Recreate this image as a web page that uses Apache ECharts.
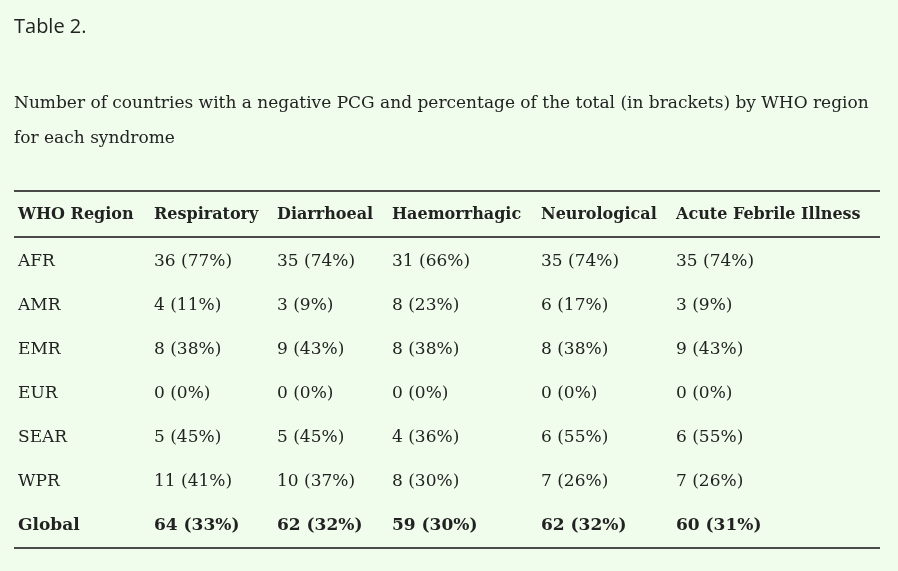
<!DOCTYPE html>
<html>
<head>
<meta charset="utf-8">
<script src="https://cdn.jsdelivr.net/npm/echarts@6/dist/echarts.min.js"></script>
<style>
html, body { margin: 0; padding: 0; background: #f1fdec; }
#Echarts_Div { width: 898px; height: 571px; }
</style>
</head>
<body>
<div id="Echarts_Div"></div>
<script>
var titleText = 'Table 2.';
var captionText = 'Number of countries with a negative PCG and percentage of the total (in brackets) by WHO region\nfor each syndrome';

var columns = ['WHO Region', 'Respiratory', 'Diarrhoeal', 'Haemorrhagic', 'Neurological', 'Acute Febrile Illness'];
var regions = ['AFR', 'AMR', 'EMR', 'EUR', 'SEAR', 'WPR', 'Global'];

// number of countries (N) and percentage of the total (P), one entry per region
var respiratoryN = [36, 4, 8, 0, 5, 11, 64];
var respiratoryP = [77, 11, 38, 0, 45, 41, 33];
var diarrhoealN = [35, 3, 9, 0, 5, 10, 62];
var diarrhoealP = [74, 9, 43, 0, 45, 37, 32];
var haemorrhagicN = [31, 8, 8, 0, 4, 8, 59];
var haemorrhagicP = [66, 23, 38, 0, 36, 30, 30];
var neurologicalN = [35, 6, 8, 0, 6, 7, 62];
var neurologicalP = [74, 17, 38, 0, 55, 26, 32];
var febrileN = [35, 3, 9, 0, 6, 7, 60];
var febrileP = [74, 9, 43, 0, 55, 26, 31];

// layout: left edge of each column inside the table (px)
var colX = [4, 140, 263, 378, 527, 662];
var tableLeft = 14;
var tableWidth = 866;
var headTop = 191;
var headH = 46;
var rowH = 44;
var bottomPad = 3;

var serif = '"DejaVu Serif", serif';
var textColor = '#222';

function cellText(n, p){
    return n + ' (' + p + '%)';
}

function makeLabel(text, bold, size, dy){
    return {
        show: true,
        position: 'right',
        distance: 0,
        offset: [0, dy],
        formatter: text,
        fontFamily: serif,
        fontSize: size,
        fontWeight: bold ? 'bold' : 'normal',
        color: textColor,
        opacity: 1
    };
}

function drawTable(){
    var chartDom = document.getElementById('Echarts_Div');
    var myChart = echarts.init(chartDom);
    var last = regions.length - 1;
    var bodyH = rowH * regions.length;

    var colData = [
        null,
        [respiratoryN, respiratoryP],
        [diarrhoealN, diarrhoealP],
        [haemorrhagicN, haemorrhagicP],
        [neurologicalN, neurologicalP],
        [febrileN, febrileP]
    ];

    var series = [];
    // header row
    series.push({
        type: 'scatter',
        xAxisIndex: 0,
        yAxisIndex: 0,
        symbolSize: 0,
        silent: true,
        itemStyle: {opacity: 1},
        data: columns.map(function(name, c){
            return {value: [colX[c], 'header'], label: makeLabel(name, true, 16, 1)};
        })
    });
    // body, one series per column
    for(var c = 0; c < columns.length; c++){
        var data = [];
        for(var r = 0; r < regions.length; r++){
            var t = c == 0 ? regions[r] : cellText(colData[c][0][r], colData[c][1][r]);
            data.push({value: [colX[c], regions[r]], label: makeLabel(t, r == last, 17, 3)});
        }
        series.push({
            type: 'scatter',
            xAxisIndex: 1,
            yAxisIndex: 1,
            symbolSize: 0,
            silent: true,
            itemStyle: {opacity: 1},
            data: data
        });
    }

    var lineY = [headTop, headTop + headH, headTop + headH + bodyH + bottomPad];
    var graphics = [{
        type: 'text',
        left: 14,
        top: 17,
        style: {text: titleText, font: '20px "Open Sans", sans-serif', fill: textColor}
    }, {
        type: 'text',
        left: 14,
        top: 86,
        style: {text: captionText, font: '17px ' + serif, fill: textColor, lineHeight: 35}
    }];
    lineY.forEach(function(y){
        graphics.push({
            type: 'line',
            shape: {x1: tableLeft, y1: y, x2: tableLeft + tableWidth, y2: y},
            style: {stroke: '#4a4a4a', lineWidth: 2}
        });
    });

    var option = {
        backgroundColor: '#f1fdec',
        animation: false,
        grid: [
            {left: tableLeft, top: headTop, width: tableWidth, height: headH},
            {left: tableLeft, top: headTop + headH, width: tableWidth, height: bodyH}
        ],
        xAxis: [
            {type: 'value', gridIndex: 0, min: 0, max: tableWidth, show: false},
            {type: 'value', gridIndex: 1, min: 0, max: tableWidth, show: false}
        ],
        yAxis: [
            {type: 'category', gridIndex: 0, data: ['header'], show: false},
            {type: 'category', gridIndex: 1, data: regions, inverse: true, show: false}
        ],
        series: series,
        graphic: graphics
    };
    option && myChart.setOption(option);
}
window.onload = function(){
    drawTable();
};
</script>
</body>
</html>
